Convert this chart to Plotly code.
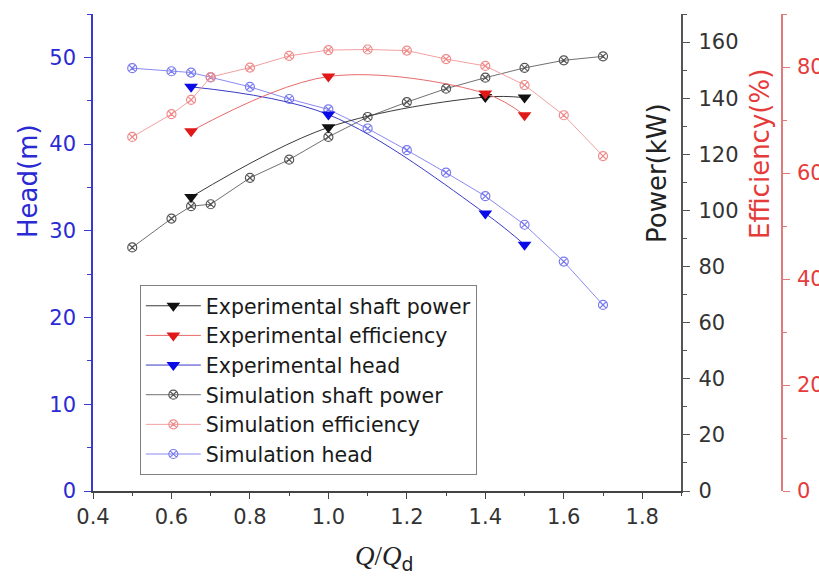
import plotly.graph_objects as go

# Flow ratio Q/Qd for simulation and test points
q_sim = [0.5, 0.6, 0.65, 0.7, 0.8, 0.9, 1.0, 1.1, 1.2, 1.3, 1.4, 1.5, 1.6, 1.7]
q_exp = [0.65, 1.0, 1.4, 1.5]

# Simulation results
sim_power = [86.8, 97.1, 101.5, 102.2, 111.6, 118.1, 126.2, 133.3, 138.6, 143.4, 147.3, 150.8, 153.5, 154.9]
sim_eff = [66.8, 71.1, 73.8, 78.1, 79.9, 82.1, 83.2, 83.3, 83.1, 81.5, 80.2, 76.6, 70.9, 63.2]
sim_head = [48.75, 48.4, 48.25, 47.7, 46.6, 45.2, 44.0, 41.8, 39.3, 36.7, 34.0, 30.7, 26.45, 21.45]

# Experimental results
exp_power = [104.8, 129.6, 140.4, 140.2]
exp_eff = [67.9, 78.2, 75.0, 70.9]
exp_head = [46.6, 43.4, 32.0, 28.4]

x_ticks = [0.4, 0.6, 0.8, 1.0, 1.2, 1.4, 1.6, 1.8]

BLUE = "#2a2ad4"
RED = "#e53b3b"
DARK = "#333333"
SANS = "DejaVu Sans, Arial, sans-serif"

fig = go.Figure()

# Head traces (left axis)
fig.add_trace(go.Scatter(
    x=q_sim, y=sim_head, name="Simulation head", yaxis="y",
    mode="lines+markers", legendrank=6,
    line=dict(color="#8a8af2", width=1),
    marker=dict(symbol="circle-x-open", size=9, color="#7a7af0", line=dict(width=1.2)),
))
fig.add_trace(go.Scatter(
    x=q_exp, y=exp_head, name="Experimental head", yaxis="y",
    mode="lines+markers", legendrank=3,
    line=dict(color="#3a3ac8", width=1, shape="spline"),
    marker=dict(symbol="triangle-down", size=12, color="#0a0ae6"),
))

# Shaft power traces (right axis)
fig.add_trace(go.Scatter(
    x=q_sim, y=sim_power, name="Simulation shaft power", yaxis="y2",
    mode="lines+markers", legendrank=4,
    line=dict(color="#707070", width=1),
    marker=dict(symbol="circle-x-open", size=9, color="#555555", line=dict(width=1.2)),
))
fig.add_trace(go.Scatter(
    x=q_exp, y=exp_power, name="Experimental shaft power", yaxis="y2",
    mode="lines+markers", legendrank=1,
    line=dict(color="#3a3a3a", width=1, shape="spline"),
    marker=dict(symbol="triangle-down", size=12, color="#111111"),
))

# Efficiency traces (outer right axis)
fig.add_trace(go.Scatter(
    x=q_sim, y=sim_eff, name="Simulation efficiency", yaxis="y3",
    mode="lines+markers", legendrank=5,
    line=dict(color="#f2a0a0", width=1),
    marker=dict(symbol="circle-x-open", size=9, color="#f08a8a", line=dict(width=1.2)),
))
fig.add_trace(go.Scatter(
    x=q_exp, y=exp_eff, name="Experimental efficiency", yaxis="y3",
    mode="lines+markers", legendrank=2,
    line=dict(color="#e86a6a", width=1, shape="spline"),
    marker=dict(symbol="triangle-down", size=12, color="#e01818"),
))

tick_font = dict(family=SANS, size=21)

fig.update_layout(
    width=819, height=577,
    margin=dict(l=93, r=37, t=14, b=86, autoexpand=False),
    paper_bgcolor="white", plot_bgcolor="white",
    showlegend=True,
    legend=dict(
        x=0.068, y=0.432, xanchor="left", yanchor="top",
        bgcolor="white", bordercolor="#808080", borderwidth=1,
        font=dict(family=SANS, size=20.5, color="#1a1a1a"),
        itemwidth=55, tracegroupgap=0,
    ),
    xaxis=dict(
        domain=[0, 0.8541], range=[0.4, 1.9], automargin=False,
        tickvals=x_ticks, ticktext=[f"{v:.1f}" for v in x_ticks],
        showline=True, linecolor="#444444", linewidth=1.5,
        ticks="outside", ticklen=6, tickwidth=1.2, tickcolor="#444444",
        minor=dict(dtick=0.1, tick0=0.4, ticks="outside", ticklen=3, tickcolor="#444444"),
        tickfont=dict(tick_font, color=DARK),
        showgrid=False, zeroline=False,
    ),
    yaxis=dict(
        range=[0, 55], dtick=10, tick0=0, automargin=False,
        showline=True, linecolor="#3a3ad0", linewidth=1.5,
        ticks="outside", ticklen=7, tickwidth=1.2, tickcolor="#3a3ad0",
        minor=dict(dtick=5, ticks="outside", ticklen=4, tickcolor="#3a3ad0"),
        tickfont=dict(tick_font, color=BLUE),
        ticklabelstandoff=4,
        showgrid=False, zeroline=False,
    ),
    yaxis2=dict(
        range=[0, 170], dtick=20, tick0=0, automargin=False,
        overlaying="y", side="right", anchor="x",
        showline=True, linecolor="#555555", linewidth=1.5,
        ticks="outside", ticklen=7, tickwidth=1.2, tickcolor="#555555",
        minor=dict(dtick=10, ticks="outside", ticklen=4, tickcolor="#555555"),
        tickfont=dict(tick_font, color=DARK),
        ticklabelstandoff=4,
        showgrid=False, zeroline=False,
    ),
    yaxis3=dict(
        range=[0, 90], dtick=20, tick0=0, automargin=False,
        overlaying="y", side="right", anchor="free", position=1,
        showline=True, linecolor="#e07a7a", linewidth=1.5,
        ticks="outside", ticklen=7, tickwidth=1.2, tickcolor="#e07a7a",
        minor=dict(dtick=10, ticks="outside", ticklen=4, tickcolor="#e07a7a"),
        tickfont=dict(tick_font, color=RED),
        ticklabelstandoff=3,
        showgrid=False, zeroline=False,
    ),
    annotations=[
        dict(text="Head(m)", x=-0.0943, y=0.650, xref="paper", yref="paper",
             textangle=-90, showarrow=False, xanchor="center", yanchor="middle",
             font=dict(family=SANS, size=26, color=BLUE)),
        dict(text="Power(kW)", x=0.8186, y=0.6667, xref="paper", yref="paper",
             textangle=-90, showarrow=False, xanchor="center", yanchor="middle",
             font=dict(family=SANS, size=26, color="#222222")),
        dict(text="Efficiency(%)", x=0.968, y=0.7065, xref="paper", yref="paper",
             textangle=-90, showarrow=False, xanchor="center", yanchor="middle",
             font=dict(family=SANS, size=26, color=RED)),
        dict(text="<i>Q</i>/<i>Q</i><span style=\"font-family:DejaVu Sans\"><sub>d</sub></span>",
             x=0.4238, y=-0.1405, xref="paper", yref="paper",
             showarrow=False, xanchor="center", yanchor="middle",
             font=dict(family="Liberation Serif, Times New Roman, serif", size=27, color="#222222")),
    ],
)

fig.write_html("out.html")
